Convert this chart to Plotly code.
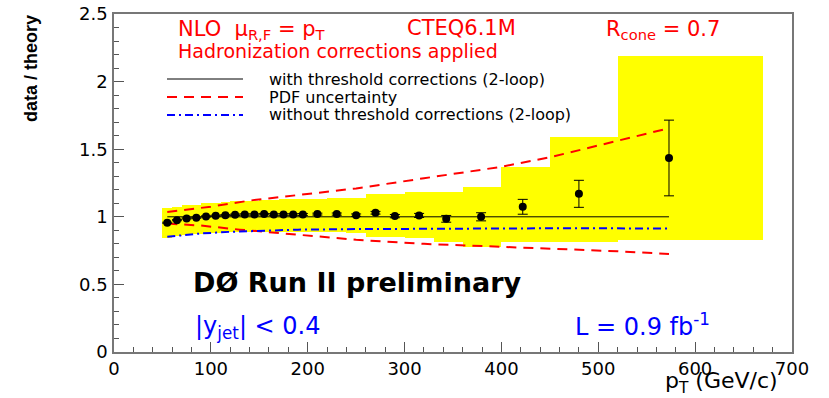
import plotly.graph_objects as go

# ---------------- data ----------------
bin_edges = [50, 60, 70, 80, 90, 100, 110, 120, 130, 140, 150, 160, 170, 180, 190, 200,
             220, 240, 260, 280, 300, 330, 360, 400, 450, 520, 670]
band_upper = [1.062, 1.075, 1.085, 1.09, 1.10, 1.105, 1.11, 1.115, 1.12, 1.12, 1.125, 1.125,
              1.13, 1.13, 1.13, 1.135, 1.14, 1.14, 1.17, 1.165, 1.185, 1.185, 1.22, 1.37, 1.59, 2.19]
band_lower = [0.84, 0.86, 0.865, 0.87, 0.875, 0.88, 0.885, 0.885, 0.89, 0.89, 0.89, 0.89,
              0.89, 0.89, 0.89, 0.885, 0.885, 0.88, 0.85, 0.85, 0.84, 0.815, 0.778, 0.815, 0.815, 0.83]

pt_points = [55, 65, 75, 85, 95, 105, 115, 125, 135, 145, 155, 165, 175, 185, 195,
             210, 230, 250, 270, 290, 315, 343, 379, 422, 480, 573]
ratio = [0.956, 0.975, 0.988, 0.993, 1.003, 1.008, 1.012, 1.015, 1.017, 1.017, 1.02, 1.017,
         1.017, 1.017, 1.017, 1.02, 1.02, 1.012, 1.03, 1.005, 1.01, 0.985, 1.0, 1.074, 1.17, 1.435]
ratio_err = [0.004, 0.004, 0.004, 0.004, 0.004, 0.004, 0.004, 0.005, 0.005, 0.005, 0.005, 0.006,
             0.006, 0.006, 0.007, 0.007, 0.008, 0.009, 0.01, 0.012, 0.015, 0.025, 0.03, 0.055, 0.1, 0.28]

theory_pt = [55, 573]
theory_ratio = [1.0, 1.0]

pdf_up_pt = [55, 100, 140, 190, 250, 320, 400, 450, 520, 573]
pdf_up = [1.035, 1.075, 1.12, 1.16, 1.21, 1.285, 1.37, 1.44, 1.56, 1.655]
pdf_lo_pt = [55, 90, 130, 190, 250, 320, 400, 450, 520, 573]
pdf_lo = [0.95, 0.935, 0.905, 0.868, 0.83, 0.80, 0.78, 0.765, 0.745, 0.725]

nothr_pt = [55, 90, 120, 150, 190, 250, 330, 450, 573]
nothr = [0.852, 0.877, 0.889, 0.896, 0.905, 0.909, 0.912, 0.915, 0.914]

x_ticks = [0, 100, 200, 300, 400, 500, 600, 700]
y_ticks = [0, 0.5, 1, 1.5, 2, 2.5]
y_tick_text = ["0", "0.5", "1", "1.5", "2", "2.5"]

# ---------------- figure ----------------
W, H = 829, 398
L, R, T, B = 114, 37, 14, 46
PW, PH = W - L - R, H - T - B


def px(xp):
    return (xp - L) / PW


def py(yp):
    return (H - B - yp) / PH


centers = [(bin_edges[i] + bin_edges[i + 1]) / 2 for i in range(len(band_upper))]
widths = [bin_edges[i + 1] - bin_edges[i] for i in range(len(band_upper))]
heights = [u - l for u, l in zip(band_upper, band_lower)]

fig = go.Figure()
fig.add_trace(go.Bar(x=centers, y=heights, base=band_lower, width=widths,
                     marker=dict(color="#ffff00", line=dict(width=0)),
                     showlegend=False, hoverinfo="skip"))
fig.add_trace(go.Scatter(x=theory_pt, y=theory_ratio, mode="lines",
                         line=dict(color="black", width=1), showlegend=False))
fig.add_trace(go.Scatter(x=pdf_up_pt, y=pdf_up, mode="lines",
                         line=dict(color="#ff0000", width=2, dash="10px,7px"), showlegend=False))
fig.add_trace(go.Scatter(x=pdf_lo_pt, y=pdf_lo, mode="lines",
                         line=dict(color="#ff0000", width=2, dash="10px,7px"), showlegend=False))
fig.add_trace(go.Scatter(x=nothr_pt, y=nothr, mode="lines",
                         line=dict(color="#0000ff", width=2, dash="8px,4px,2px,4px"), showlegend=False))
fig.add_trace(go.Scatter(x=pt_points, y=ratio, mode="markers",
                         marker=dict(color="black", size=8),
                         error_y=dict(type="data", array=ratio_err, color="black",
                                      thickness=1, width=5),
                         showlegend=False))

FONT = "DejaVu Sans"
red = "#ff0000"
blue = "#0000ff"

ann = []


def add_text(text, x, y, size, color="black", xanchor="left", yanchor="middle", bold=False,
             family=FONT, angle=0):
    ann.append(dict(text=("<b>%s</b>" % text) if bold else text, x=px(x), y=py(y),
                    xref="paper", yref="paper", xanchor=xanchor, yanchor=yanchor,
                    showarrow=False, textangle=angle,
                    font=dict(family=family, size=size, color=color)))


# header lines
add_text("NLO  μ<sub>R,F</sub> = p<sub>T</sub>", 176, 30, 21, red)
add_text("CTEQ6.1M", 405, 28, 21, red)
add_text("R<sub>cone</sub> = 0.7", 604, 30, 21, red)
add_text("Hadronization corrections applied", 176, 51, 19, red)

# manual legend
add_text("with threshold corrections (2-loop)", 267, 79, 16)
add_text("PDF uncertainty", 267, 97, 16)
add_text("without threshold corrections (2-loop)", 267, 115, 16)

add_text("DØ Run II preliminary", 191, 282, 27, bold=True)
add_text("|y<sub>jet</sub>| < 0.4", 193, 327, 24, blue)
add_text("L = 0.9 fb<sup>-1</sup>", 573, 325, 24, blue)

add_text("p<sub>T</sub> (GeV/c)", 780, 383, 22, xanchor="right")
add_text("data / theory", 31, 69, 18, yanchor="middle", xanchor="center", bold=True,
         family="Liberation Sans", angle=-90)

shapes = [
    dict(type="line", xref="paper", yref="paper", x0=px(167), x1=px(243), y0=py(79), y1=py(79),
         line=dict(color="black", width=1)),
    dict(type="line", xref="paper", yref="paper", x0=px(167), x1=px(243), y0=py(97), y1=py(97),
         line=dict(color=red, width=2, dash="10px,7px")),
    dict(type="line", xref="paper", yref="paper", x0=px(167), x1=px(243), y0=py(115), y1=py(115),
         line=dict(color=blue, width=2, dash="8px,4px,2px,4px")),
]

fig.update_layout(
    width=W, height=H,
    margin=dict(l=L, r=R, t=T, b=B, pad=0, autoexpand=False),
    paper_bgcolor="white", plot_bgcolor="white",
    annotations=ann, shapes=shapes,
    bargap=0, barmode="overlay",
    font=dict(family=FONT, size=18, color="black"),
)
fig.update_xaxes(range=[0, 700], tickvals=x_ticks, ticktext=[str(v) for v in x_ticks],
                 ticks="inside", ticklen=10, tickwidth=1, tickcolor="#555",
                 minor=dict(dtick=20, tick0=0, ticks="inside", ticklen=5, tickcolor="#555"),
                 showline=True, linecolor="#777", linewidth=1.5, mirror=True, automargin=False,
                 showgrid=False, zeroline=False, tickfont=dict(family=FONT, size=18))
fig.update_yaxes(range=[0, 2.5], tickvals=y_ticks, ticktext=y_tick_text,
                 ticks="inside", ticklen=10, tickwidth=1, tickcolor="#555",
                 minor=dict(dtick=0.1, tick0=0, ticks="inside", ticklen=5, tickcolor="#555"),
                 showline=True, linecolor="#777", linewidth=1.5, mirror=True, automargin=False,
                 showgrid=False, zeroline=False, tickfont=dict(family=FONT, size=18),
                 ticklabelstandoff=1)

fig.write_html("out.html")
